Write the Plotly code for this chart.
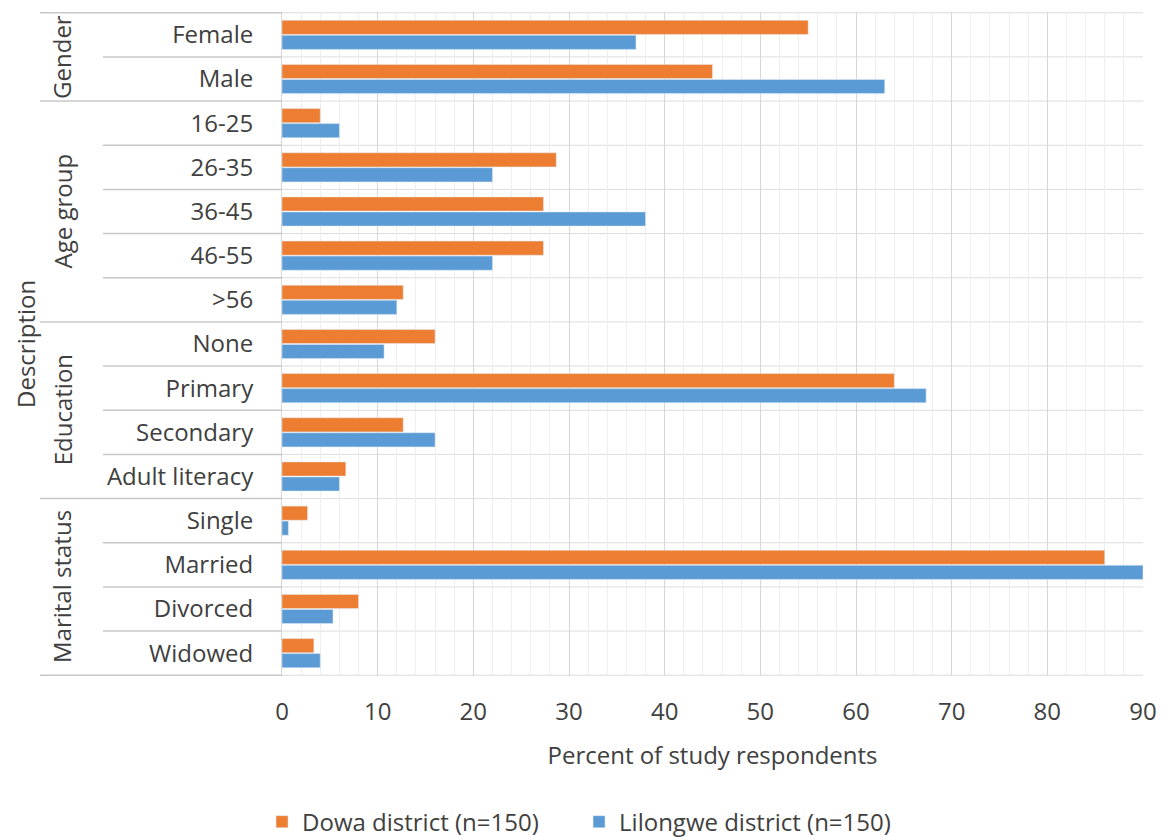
import plotly.graph_objects as go

categories = ["Female", "Male", "16-25", "26-35", "36-45", "46-55", ">56",
              "None", "Primary", "Secondary", "Adult literacy",
              "Single", "Married", "Divorced", "Widowed"]
groups = ["Gender", "Age group", "Education", "Marital status"]
group_sizes = [2, 5, 4, 4]
dowa = [55, 45, 4, 28.67, 27.33, 27.33, 12.67, 16, 64, 12.67, 6.67, 2.67, 86, 8, 3.33]
lilongwe = [37, 63, 6, 22, 38, 22, 12, 10.67, 67.33, 16, 6, 0.67, 90, 5.33, 4]
x_ticks = [0, 10, 20, 30, 40, 50, 60, 70, 80, 90]

FONT = "Open Sans"
TXT = "#404040"
FS = 24

fig = go.Figure()
fig.add_trace(go.Bar(y=categories, x=dowa, orientation="h", name="Dowa district (n=150)",
                     marker=dict(color="#ED7D31")))
fig.add_trace(go.Bar(y=categories, x=lilongwe, orientation="h", name="Lilongwe district (n=150)",
                     marker=dict(color="#5B9BD5")))

shapes = []
n = len(categories)
group_edges = {0}
acc = 0
for s in group_sizes:
    acc += s
    group_edges.add(acc)
for i in range(n + 1):
    x0 = -0.281 if i in group_edges else -0.208
    shapes.append(dict(type="line", xref="paper", yref="y", x0=x0, x1=0,
                       y0=i - 0.5, y1=i - 0.5, line=dict(color="#c8c8c8", width=1.5)))
    shapes.append(dict(type="line", xref="paper", yref="y", x0=0, x1=1,
                       y0=i - 0.5, y1=i - 0.5, line=dict(color="#dcdcdc", width=1), layer="below"))

annotations = []
acc = 0
for g, s in zip(groups, group_sizes):
    mid = acc + (s - 1) / 2
    annotations.append(dict(text=g, xref="paper", yref="y", x=-0.2555, y=mid,
                            textangle=-90, showarrow=False, xanchor="center", yanchor="middle",
                            font=dict(family=FONT, size=FS, color=TXT)))
    acc += s
annotations.append(dict(text="Description", xref="paper", yref="paper", x=-0.2985, y=0.5,
                        textangle=-90, showarrow=False, xanchor="center", yanchor="middle",
                        font=dict(family=FONT, size=FS, color=TXT)))

fig.update_layout(
    width=1161, height=829,
    margin=dict(l=274, r=26, t=4, b=161),
    paper_bgcolor="white", plot_bgcolor="white",
    barmode="group", bargap=0.32, bargroupgap=0.06,
    font=dict(family=FONT, size=FS, color=TXT),
    shapes=shapes, annotations=annotations,
    showlegend=True,
    legend=dict(orientation="h", x=0.345, xanchor="center", xref="paper",
                yref="container", y=0.018, yanchor="middle",
                font=dict(family=FONT, size=FS, color=TXT), traceorder="normal",
                itemwidth=30, entrywidth=272, entrywidthmode="pixels"),
)
fig.update_xaxes(range=[0, 90], tickvals=x_ticks, ticktext=[str(v) for v in x_ticks],
                 showgrid=True, gridcolor="#d6d6d6", gridwidth=1,
                 minor=dict(dtick=2, showgrid=True, gridcolor="#eeeeee", gridwidth=1),
                 zeroline=False, showline=False, ticks="", ticklabelstandoff=19,
                 tickfont=dict(family=FONT, size=FS, color=TXT),
                 title=dict(text="Percent of study respondents", standoff=21,
                            font=dict(family=FONT, size=FS, color=TXT)))
fig.update_yaxes(categoryorder="array", categoryarray=categories, autorange="reversed",
                 showgrid=False, zeroline=False, showline=True, linecolor="#d6d6d6",
                 ticks="", ticklabelstandoff=23,
                 tickfont=dict(family=FONT, size=FS, color=TXT))

fig.write_html("out.html")
